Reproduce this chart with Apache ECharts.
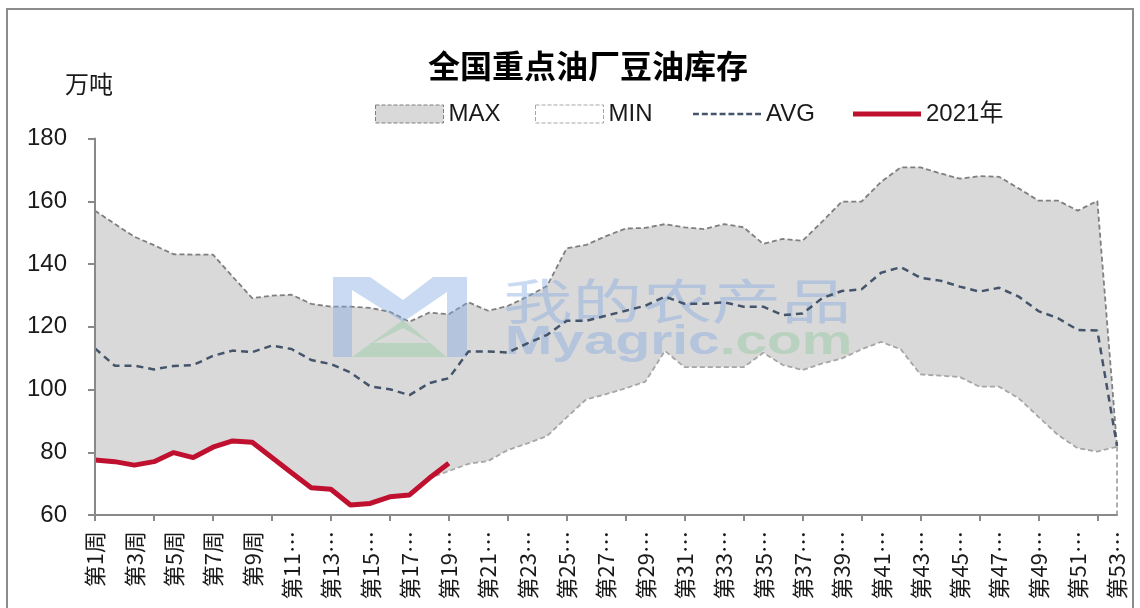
<!DOCTYPE html>
<html>
<head>
<meta charset="utf-8">
<script src="https://cdn.jsdelivr.net/npm/echarts@6/dist/echarts.min.js"></script>
<style>html,body{margin:0;padding:0;background:#fff;}#c{width:1140px;height:608px;}</style>
</head>
<body>
<div id="c"></div>
<script>
// ---- data ----
const weeks = [];
for (let i = 1; i <= 53; i++) weeks.push('第' + i + '周');
const maxVals = [157, 152.8, 148.7, 146, 143.1, 143, 143, 136, 129.1, 129.9, 130.2, 127.3, 126.4, 126.4, 126, 124.8, 121.6, 124.5, 124, 127.8, 125.1, 126.6, 129.6, 133, 145, 146.1, 148.9, 151.3, 151.5, 152.7, 151.7, 151.1, 152.7, 151.7, 146.4, 148, 147.4, 153.5, 159.9, 159.9, 166.2, 170.8, 170.8, 168.9, 167.2, 168, 167.8, 164.1, 160.2, 160.2, 157, 160.1, 82];
const minVals = [77.5, 77, 75.9, 77, 79.9, 78.3, 81.6, 83.6, 83.2, 78.3, 73.5, 68.7, 68.2, 63.2, 63.7, 65.8, 66.4, 71.7, 74, 76.3, 77.2, 80.7, 82.8, 85.2, 91.1, 96.9, 98.5, 100.4, 102.5, 112.3, 107.1, 107.1, 107.1, 107.1, 111.7, 107.8, 106.2, 108.3, 109.9, 112.8, 115.2, 112.8, 104.8, 104.4, 104, 100.9, 100.9, 97.2, 91.3, 85.5, 81.3, 80.2, 81.8];
const avgVals = [113.1, 107.6, 107.6, 106.4, 107.5, 107.8, 110.7, 112.4, 111.9, 114, 112.9, 109.4, 108.1, 105.4, 101, 100.1, 98.2, 102, 103.6, 112.1, 112.1, 111.8, 114.7, 117.4, 121.9, 121.9, 123.5, 125.1, 126.7, 129.6, 127.3, 127.3, 127.8, 126.4, 126.4, 123.7, 124.2, 129.1, 131.4, 131.9, 137.2, 139, 135.6, 134.7, 132.8, 131.2, 132.4, 129.6, 125, 122.7, 119, 118.8, 82];
const y2021 = [77.5, 77, 75.9, 77, 79.9, 78.3, 81.6, 83.6, 83.2, 78.3, 73.5, 68.7, 68.2, 63.2, 63.7, 65.8, 66.4, 71.7, 76.5];
const yMin = 60, yMax = 180, yStep = 20;

const FONT = "'Liberation Sans', 'Noto Sans CJK SC', sans-serif";
const CJK = "'Noto Sans CJK SC', 'Noto Sans', sans-serif";
const chart = echarts.init(document.getElementById('c'));
const lastIdx = weeks.length - 1;

// legend icon paths (line-like)
let dashPath = 'path://';
for (let i = 0; i < 8; i++) { const x = i * 9; dashPath += 'M' + x + ',0h6v2.5h-6z'; }
const solidPath = 'path://M0,0h68v5h-68z';

function legendAt(left, item) {
  return {
    left: left, top: 97,
    itemWidth: 68, itemHeight: 18, itemGap: 30,
    textStyle: { fontSize: 24, color: '#1a1a1a', fontFamily: FONT },
    data: [item]
  };
}

chart.setOption({
  animation: false,
  backgroundColor: '#fff',
  textStyle: { fontFamily: FONT },
  title: [
    { text: '全国重点油厂豆油库存', left: 423, top: 45,
      textStyle: { fontSize: 32, fontWeight: 'bold', color: '#000', fontFamily: CJK } },
    { text: '万吨', left: 60, top: 67,
      textStyle: { fontSize: 24, fontWeight: 'normal', color: '#1a1a1a', fontFamily: CJK } }
  ],
  legend: [
    legendAt(370, { name: 'MAX', icon: 'rect', itemStyle: { color: '#d9d9d9', borderColor: '#7f7f7f', borderWidth: 1, borderType: 'dashed' } }),
    legendAt(530, { name: 'MIN', icon: 'rect', itemStyle: { color: '#ffffff', borderColor: '#a6a6a6', borderWidth: 1, borderType: 'dashed' } }),
    legendAt(688, { name: 'AVG', icon: dashPath, itemStyle: { color: '#44546a', borderWidth: 0 } }),
    legendAt(848, { name: '2021年', icon: solidPath, itemStyle: { color: '#c0102f', borderWidth: 0 } })
  ],
  grid: { left: 95, right: 23, top: 138.5, bottom: 93, containLabel: false },
  xAxis: {
    type: 'category', data: weeks, boundaryGap: false, z: 10,
    axisLine: { lineStyle: { color: '#898989', width: 2 } },
    axisTick: { show: true, interval: 2, length: 6, lineStyle: { color: '#898989', width: 2 } },
    axisLabel: {
      interval: 1, rotate: 90, margin: 16, fontSize: 22, color: '#1a1a1a', fontFamily: CJK,
      formatter: function (v) {
        const n = parseInt(v.replace(/[^0-9]/g, ''), 10);
        return n >= 10 ? v.slice(0, v.length - 1) + '…' : v;
      }
    },
    splitLine: { show: false }
  },
  yAxis: {
    type: 'value', min: yMin, max: yMax, interval: yStep, z: 10,
    axisLine: { show: true, lineStyle: { color: '#898989', width: 2 } },
    axisTick: { show: true, length: 7, lineStyle: { color: '#898989', width: 2 } },
    axisLabel: { fontSize: 24, color: '#1a1a1a', margin: 28, fontFamily: FONT },
    splitLine: { show: false }
  },
  graphic: [
    { type: 'rect', shape: { x: 7, y: 9, width: 1126, height: 620 },
      style: { fill: 'none', stroke: '#8c8c8c', lineWidth: 2 }, z: 1, silent: true },
    { type: 'polygon', z: 3, silent: true,
      shape: { points: [[333,357],[333,277],[370,277],[403,300],[433,277],[467,277],[467,357],[447,357],[447,292],[403,322],[352,290],[352,357]] },
      style: { fill: '#7ea6e0', opacity: 0.42 } },
    { type: 'polygon', z: 3, silent: true,
      shape: { points: [[352,357],[403,320],[447,357],[352,357],[373,343],[430,343],[403,328],[373,343]] },
      style: { fill: '#8cc79a', opacity: 0.4 } },
    { type: 'text', z: 3, silent: true, x: 503, y: 277, scaleX: 1.45,
      style: { text: '我的农产品', fontSize: 48, fontFamily: CJK, fill: '#7ea6e0', opacity: 0.42, verticalAlign: 'top' } },
    { type: 'text', z: 3, silent: true, x: 505, y: 323, scaleX: 1.42,
      style: { text: '{a|Myagric}{b|.com}', fontSize: 40, fontWeight: 'bold', verticalAlign: 'top', opacity: 0.42,
        rich: { a: { fontSize: 40, fontWeight: 'bold', fontFamily: "'Liberation Sans', sans-serif", fill: '#7ea6e0' },
                b: { fontSize: 40, fontWeight: 'bold', fontFamily: "'Liberation Sans', sans-serif", fill: '#8cc79a' } } } }
  ],
  series: [
    { name: 'MAX', type: 'line', data: maxVals, symbol: 'none', z: 1,
      itemStyle: { color: '#d9d9d9' },
      lineStyle: { color: '#7f7f7f', width: 1.8, type: [5, 3] },
      areaStyle: { color: '#d9d9d9', opacity: 1 } },
    { name: 'MIN', type: 'line', data: minVals, symbol: 'none', z: 2,
      itemStyle: { color: '#ffffff' },
      lineStyle: { color: '#a6a6a6', width: 1.8, type: [5, 3] },
      areaStyle: { color: '#ffffff', opacity: 1 },
      markLine: { silent: true, symbol: 'none', label: { show: false },
        lineStyle: { color: '#a6a6a6', width: 1.8, type: [5, 3] },
        data: [[{ coord: [lastIdx, minVals[lastIdx]] }, { coord: [lastIdx, yMin] }]] } },
    { name: 'AVG', type: 'line', data: avgVals, symbol: 'none', z: 5,
      itemStyle: { color: '#44546a' },
      lineStyle: { color: '#44546a', width: 2.5, type: [7, 5] } },
    { name: '2021年', type: 'line', data: y2021, symbol: 'none', z: 6,
      itemStyle: { color: '#c0102f' },
      lineStyle: { color: '#c0102f', width: 5 } }
  ]
});
</script>
</body>
</html>
